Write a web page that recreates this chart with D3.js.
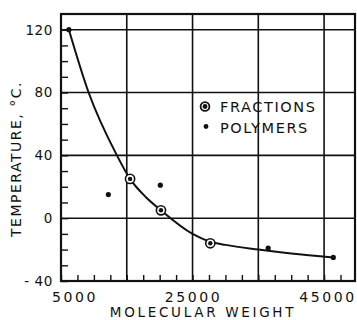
<!DOCTYPE html>
<html><head><meta charset="utf-8">
<script src="https://cdn.jsdelivr.net/npm/d3@7"></script>
<style>
html,body{margin:0;padding:0;background:#fff;}
svg{display:block;}
text{font-family:"DejaVu Sans",sans-serif;fill:#111;}
</style></head>
<body><svg id="c" width="357" height="320"></svg>
<script>
// ---- data ----
const fractionsMW = [15500, 20200, 27700];
const fractionsT  = [25, 5, -16];
const polymersMW  = [6200, 12200, 20100, 36500, 46400];
const polymersT   = [120, 15, 21, -19, -25];
const curveMW = [6200, 9200, 13500, 15500, 18000, 20200, 25000, 27700, 30000, 35000, 40000, 46400];
const curveT  = [120, 80, 40, 25, 13, 5, -10, -15, -17, -20, -22.5, -25];
const yTickLabels = [120, 80, 40, 0, -40];
const xTickLabels = [5000, 25000, 45000];
const yGrid = [120, 80, 40, 0];
const xGrid = [15000, 25000, 35000, 45000];
const legendItems = ["FRACTIONS", "POLYMERS"];

const svg = d3.select("#c");
const x = d3.scaleLinear().domain([5000, 49700]).range([61, 355]);
const y = d3.scaleLinear().domain([-40, 130]).range([281, 14]);
const ink = "#111";

// grid
svg.selectAll("line.yg").data(yGrid).join("line")
  .attr("x1", x(5000)).attr("x2", x(49700))
  .attr("y1", d => y(d)).attr("y2", d => y(d))
  .attr("stroke", ink).attr("stroke-width", 1.6);
svg.selectAll("line.xg").data(xGrid).join("line")
  .attr("y1", y(-40)).attr("y2", y(130))
  .attr("x1", d => x(d)).attr("x2", d => x(d))
  .attr("stroke", ink).attr("stroke-width", 1.6);

// minor ticks (inward) via axes
const yAxis = d3.axisRight(y).tickValues(d3.range(-40, 121, 10)).tickSize(7).tickFormat("");
svg.append("g").attr("transform", `translate(${x(5000)},0)`).call(yAxis)
  .call(g => g.select(".domain").remove())
  .call(g => g.selectAll("line").attr("stroke", ink).attr("stroke-width", 1.4));
const xAxis = d3.axisTop(x).tickValues(d3.range(5000, 49701, 2500)).tickSize(6).tickFormat("");
svg.append("g").attr("transform", `translate(0,${y(-40)})`).call(xAxis)
  .call(g => g.select(".domain").remove())
  .call(g => g.selectAll("line").attr("stroke", ink).attr("stroke-width", 1.4));

// frame
svg.append("rect").attr("x", x(5000)).attr("y", y(130))
  .attr("width", x(49700) - x(5000)).attr("height", y(-40) - y(130))
  .attr("fill", "none").attr("stroke", ink).attr("stroke-width", 2.2);

// tick labels
svg.selectAll("text.yl").data(yTickLabels).join("text")
  .attr("x", 53).attr("y", d => y(d)).attr("dy", "0.36em")
  .attr("text-anchor", "end").attr("font-size", 13.5).attr("letter-spacing", 0.6)
  .text(d => d < 0 ? "- " + Math.abs(d) : d);
svg.selectAll("text.xl").data(xTickLabels).join("text")
  .attr("x", (d, i) => x(d) + (i === 0 ? 14 : i === 2 ? 4 : 1))
  .attr("y", 302).attr("text-anchor", "middle")
  .attr("font-size", 14).attr("letter-spacing", 2.6)
  .text(d => d);

// axis titles
svg.append("text").attr("x", 203).attr("y", 317).attr("text-anchor", "middle")
  .attr("font-size", 13.5).attr("letter-spacing", 2.7).text("MOLECULAR WEIGHT");
svg.append("text").attr("transform", "translate(21,159) rotate(-90)")
  .attr("text-anchor", "middle").attr("font-size", 14).attr("letter-spacing", 1.5)
  .text("TEMPERATURE, °C.");

// curve
const curvePts = curveMW.map((m, i) => [m, curveT[i]]);
svg.append("path").datum(curvePts)
  .attr("d", d3.line().x(d => x(d[0])).y(d => y(d[1])).curve(d3.curveMonotoneX))
  .attr("fill", "none").attr("stroke", ink).attr("stroke-width", 2);

// polymers
svg.selectAll("circle.p").data(polymersMW).join("circle")
  .attr("cx", d => x(d)).attr("cy", (d, i) => y(polymersT[i]))
  .attr("r", 2.6).attr("fill", ink);

// fractions
const fr = svg.selectAll("g.f").data(fractionsMW).join("g")
  .attr("transform", (d, i) => `translate(${x(d)},${y(fractionsT[i])})`);
fr.append("circle").attr("r", 4.6).attr("fill", "#fff").attr("stroke", ink).attr("stroke-width", 1.6);
fr.append("circle").attr("r", 2.2).attr("fill", ink);

// legend
const lg = svg.append("g");
lg.append("circle").attr("cx", 205).attr("cy", 106.5).attr("r", 4.4).attr("fill", "#fff").attr("stroke", ink).attr("stroke-width", 1.8);
lg.append("circle").attr("cx", 205).attr("cy", 106.5).attr("r", 2.4).attr("fill", ink);
lg.append("circle").attr("cx", 206).attr("cy", 126.5).attr("r", 2.4).attr("fill", ink);
lg.selectAll("text").data(legendItems).join("text")
  .attr("x", 220).attr("y", (d, i) => 112 + i * 21)
  .attr("font-size", 14.5).attr("letter-spacing", 1.6)
  .text(d => d);
</script></body></html>
